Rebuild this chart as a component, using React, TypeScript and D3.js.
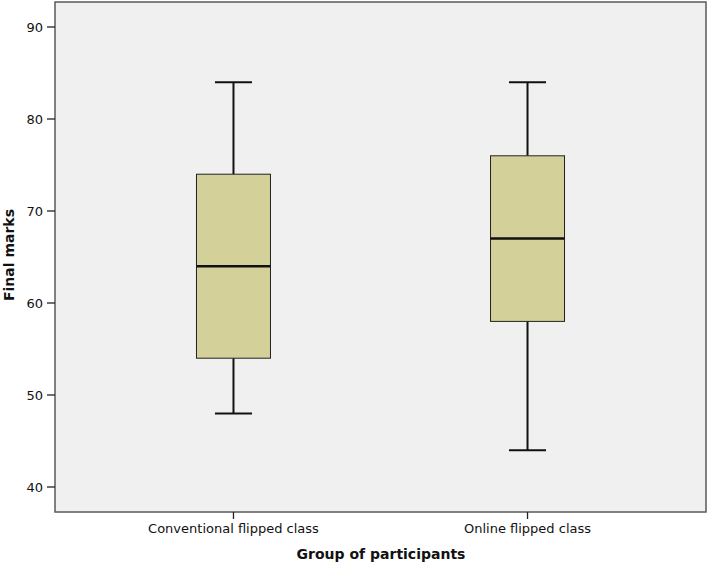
import * as d3 from "d3";

const groups = ["Conventional flipped class", "Online flipped class"];
const mins = [48, 44];
const q1s = [54, 58];
const medians = [64, 67];
const q3s = [74, 76];
const maxs = [84, 84];
const yTicks = [40, 50, 60, 70, 80, 90];

const W = 708;
const H = 565;
const frame = { left: 55, right: 706, top: 2, bottom: 512 };
const font = "'DejaVu Sans', Verdana, sans-serif";

export default function App() {
  const y = d3.scaleLinear().domain([40, 90]).range([487, 27]);
  const x = d3.scalePoint<string>().domain(groups).range([frame.left, frame.right]).padding(0.607);
  const boxW = 74;
  const capW = 37;

  return (
    <svg width={W} height={H} style={{ position: "absolute", left: 0, top: 0, background: "#fff" }}>
      <rect
        x={frame.left}
        y={frame.top}
        width={frame.right - frame.left}
        height={frame.bottom - frame.top}
        fill="#f0f0f0"
        stroke="#5a5a5a"
        strokeWidth={1.5}
      />
      {yTicks.map((t) => (
        <g key={t}>
          <line x1={frame.left - 8} x2={frame.left} y1={y(t)} y2={y(t)} stroke="#222" strokeWidth={1.3} />
          <text x={43} y={y(t)} dy="0.35em" textAnchor="end" fontFamily={font} fontSize={13} fill="#111">
            {t}
          </text>
        </g>
      ))}
      {groups.map((g, i) => {
        const cx = x(g)!;
        return (
          <g key={g}>
            <line x1={cx} x2={cx} y1={frame.bottom} y2={frame.bottom + 7} stroke="#222" strokeWidth={1.3} />
            <text x={cx} y={533} textAnchor="middle" fontFamily={font} fontSize={13} fill="#111">
              {g}
            </text>
            <line x1={cx} x2={cx} y1={y(maxs[i])} y2={y(q3s[i])} stroke="#111" strokeWidth={2} />
            <line x1={cx} x2={cx} y1={y(q1s[i])} y2={y(mins[i])} stroke="#111" strokeWidth={2} />
            <line x1={cx - capW / 2} x2={cx + capW / 2} y1={y(maxs[i])} y2={y(maxs[i])} stroke="#111" strokeWidth={2} />
            <line x1={cx - capW / 2} x2={cx + capW / 2} y1={y(mins[i])} y2={y(mins[i])} stroke="#111" strokeWidth={2} />
            <rect
              x={cx - boxW / 2}
              y={y(q3s[i])}
              width={boxW}
              height={y(q1s[i]) - y(q3s[i])}
              fill="#d4d09a"
              stroke="#222"
              strokeWidth={1}
            />
            <line x1={cx - boxW / 2} x2={cx + boxW / 2} y1={y(medians[i])} y2={y(medians[i])} stroke="#111" strokeWidth={2.5} />
          </g>
        );
      })}
      <text x={381} y={559} textAnchor="middle" fontFamily={font} fontSize={14} fontWeight="bold" fill="#111">
        Group of participants
      </text>
      <text
        transform={`translate(14, 255) rotate(-90)`}
        textAnchor="middle"
        fontFamily={font}
        fontSize={14}
        fontWeight="bold"
        fill="#111"
      >
        Final marks
      </text>
    </svg>
  );
}
